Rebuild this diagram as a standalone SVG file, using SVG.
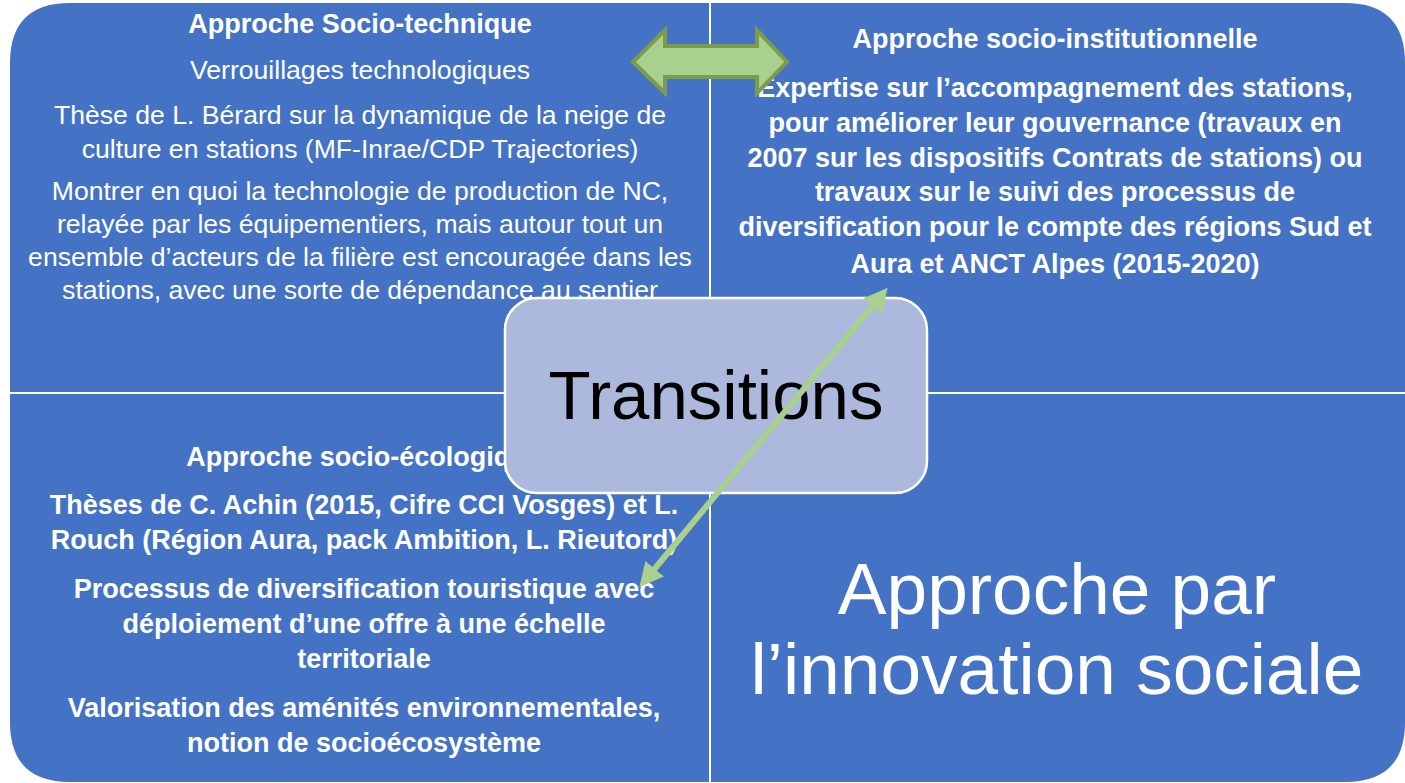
<svg xmlns="http://www.w3.org/2000/svg" width="1405" height="783" viewBox="0 0 1405 783">
<style>
.q{fill:#4472C4;}
.t{fill:#ffffff;font-family:'Liberation Sans',Arial,sans-serif;text-anchor:middle;}
.r{font-size:26.6px;}
.b{font-size:27px;font-weight:bold;}
.big{font-size:73px;}
</style>
<defs>
<marker id="ah" viewBox="0 0 10 10" refX="5" refY="5" markerWidth="4" markerHeight="4" orient="auto-start-reverse" markerUnits="strokeWidth">
<path d="M0,0 L10,5 L0,10 z" fill="#A9D18E"/>
</marker>
</defs>
<rect width="1405" height="783" fill="#ffffff"/>

<g id="q-socio-technique">
<path class="q" d="M10,63 Q10,3 70,3 L709,3 L709,392 L10,392 Z"/>
<text class="t b" x="360" y="33">Approche Socio-technique</text>
<text class="t r" x="360" y="79">Verrouillages technologiques</text>
<text class="t r" x="360" y="124">Thèse de L. Bérard sur la dynamique de la neige de</text>
<text class="t r" x="360" y="158">culture en stations (MF-Inrae/CDP Trajectories)</text>
<text class="t r" x="360" y="200">Montrer en quoi la technologie de production de NC,</text>
<text class="t r" x="360" y="233">relayée par les équipementiers, mais autour tout un</text>
<text class="t r" x="360" y="266">ensemble d’acteurs de la filière est encouragée dans les</text>
<text class="t r" x="360" y="299">stations, avec une sorte de dépendance au sentier</text>
</g>

<g id="q-socio-institutionnelle">
<path class="q" d="M711,3 L1345,3 Q1405,3 1405,63 L1405,392 L711,392 Z"/>
<text class="t b" x="1055" y="48">Approche socio-institutionnelle</text>
<text class="t b" x="1055" y="97">Expertise sur l’accompagnement des stations,</text>
<text class="t b" x="1055" y="132">pour améliorer leur gouvernance (travaux en</text>
<text class="t b" x="1055" y="167">2007 sur les dispositifs Contrats de stations) ou</text>
<text class="t b" x="1055" y="201">travaux sur le suivi des processus de</text>
<text class="t b" x="1055" y="236">diversification pour le compte des régions Sud et</text>
<text class="t b" x="1055" y="273">Aura et ANCT Alpes (2015-2020)</text>
</g>

<g id="q-socio-ecologique">
<path class="q" d="M10,394 L709,394 L709,782 L70,782 Q10,782 10,722 Z"/>
<text class="t b" x="364" y="466">Approche socio-écologique</text>
<text class="t b" x="364" y="514">Thèses de C. Achin (2015, Cifre CCI Vosges) et L.</text>
<text class="t b" x="364" y="549">Rouch (Région Aura, pack Ambition, L. Rieutord)</text>
<text class="t b" x="364" y="598">Processus de diversification touristique avec</text>
<text class="t b" x="364" y="633">déploiement d’une offre à une échelle</text>
<text class="t b" x="364" y="668">territoriale</text>
<text class="t b" x="364" y="717">Valorisation des aménités environnementales,</text>
<text class="t b" x="364" y="752">notion de socioécosystème</text>
</g>

<g id="q-innovation-sociale">
<path class="q" d="M711,394 L1405,394 L1405,722 Q1405,782 1345,782 L711,782 Z"/>
<text class="t big" x="1057" y="614">Approche par</text>
<text class="t big" x="1057" y="694">l’innovation sociale</text>
</g>

<g id="transitions">
<rect x="505" y="298" width="422" height="195" rx="32" ry="32" fill="#ADB9DC" stroke="#ffffff" stroke-width="2.5"/>
<text x="716" y="419" font-family="'Liberation Sans',Arial,sans-serif" font-size="69" fill="#000000" text-anchor="middle">Transitions</text>
</g>

<g id="connectors">
<line x1="647" y1="578" x2="880" y2="297" stroke="#A9D18E" stroke-width="6" marker-start="url(#ah)" marker-end="url(#ah)"/>
<polygon points="633,62 665,30 665,46 757,46 757,30 787,62 757,93 757,77 665,77 665,93" fill="#A9D18E" stroke="#7E9A4B" stroke-width="4" stroke-linejoin="miter"/>
</g>
</svg>
